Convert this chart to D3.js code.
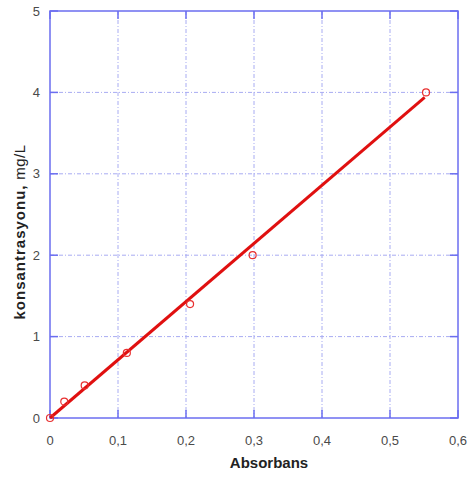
<!DOCTYPE html>
<html>
<head>
<meta charset="utf-8">
<script src="https://cdn.jsdelivr.net/npm/d3@7"></script>
<style>
  body { margin: 0; background: #fff; }
  text { font-family: "Liberation Sans", Arial, sans-serif; }
</style>
</head>
<body>
<svg id="chart" width="467" height="479"></svg>
<script>
const absorbans = [0, 0.021, 0.051, 0.113, 0.206, 0.298, 0.553];
const konsantrasyon = [0, 0.2, 0.4, 0.8, 1.4, 2.0, 4.0];
const fitX = [0, 0.551];
const fitY = [0, 3.94];
const xTicks = [0, 0.1, 0.2, 0.3, 0.4, 0.5, 0.6];
const yTicks = [0, 1, 2, 3, 4, 5];

const svg = d3.select("#chart"),
      margin = {top: 11, right: 9, bottom: 61, left: 50},
      width = +svg.attr("width") - margin.left - margin.right,
      height = +svg.attr("height") - margin.top - margin.bottom;

const x = d3.scaleLinear().domain([0, 0.6]).range([0, width]),
      y = d3.scaleLinear().domain([0, 5]).range([height, 0]);

const g = svg.append("g")
    .attr("transform", `translate(${margin.left},${margin.top})`);

const fmt = d => String(d).replace(".", ",");
const gridColor = "#a8acf2", axisColor = "#6b6ef0";

// grid
g.append("g").selectAll("line").data(xTicks.slice(1, -1)).enter().append("line")
    .attr("x1", d => x(d)).attr("x2", d => x(d))
    .attr("y1", 0).attr("y2", height)
    .attr("stroke", gridColor).attr("stroke-width", 1)
    .attr("stroke-dasharray", "4,2,1,2");
g.append("g").selectAll("line").data(yTicks.slice(1, -1)).enter().append("line")
    .attr("y1", d => y(d)).attr("y2", d => y(d))
    .attr("x1", 0).attr("x2", width)
    .attr("stroke", gridColor).attr("stroke-width", 1)
    .attr("stroke-dasharray", "4,2,1,2");

// frame
g.append("rect").attr("width", width).attr("height", height)
    .attr("fill", "none").attr("stroke", axisColor).attr("stroke-width", 1.5);

// inward ticks
const tk = 8;
g.append("g").selectAll("line").data(yTicks).enter().append("line")
    .attr("x1", 0).attr("x2", tk).attr("y1", d => y(d)).attr("y2", d => y(d))
    .attr("stroke", axisColor).attr("stroke-width", 1.5);
g.append("g").selectAll("line").data(yTicks).enter().append("line")
    .attr("x1", width - tk).attr("x2", width).attr("y1", d => y(d)).attr("y2", d => y(d))
    .attr("stroke", axisColor).attr("stroke-width", 1.5);
g.append("g").selectAll("line").data(xTicks).enter().append("line")
    .attr("x1", d => x(d)).attr("x2", d => x(d)).attr("y1", height - tk).attr("y2", height)
    .attr("stroke", axisColor).attr("stroke-width", 1.5);
g.append("g").selectAll("line").data(xTicks).enter().append("line")
    .attr("x1", d => x(d)).attr("x2", d => x(d)).attr("y1", 0).attr("y2", tk)
    .attr("stroke", axisColor).attr("stroke-width", 1.5);

// tick labels
g.append("g").selectAll("text").data(yTicks).enter().append("text")
    .attr("x", -10).attr("y", d => y(d)).attr("dy", "0.35em")
    .attr("text-anchor", "end").attr("font-size", 13).attr("fill", "#4a4a4a")
    .text(fmt);
g.append("g").selectAll("text").data(xTicks).enter().append("text")
    .attr("x", d => x(d)).attr("y", height + 27)
    .attr("text-anchor", "middle").attr("font-size", 13).attr("fill", "#4a4a4a")
    .text(fmt);

// axis titles
svg.append("text")
    .attr("x", 269).attr("y", 468)
    .attr("text-anchor", "middle").attr("font-size", 15).attr("font-weight", "bold")
    .attr("fill", "#222").text("Absorbans");

const yt = svg.append("text")
    .attr("transform", `translate(25,232) rotate(-90)`)
    .attr("text-anchor", "middle").attr("font-size", 15).attr("fill", "#222");
yt.append("tspan").attr("font-weight", "bold").attr("letter-spacing", 1).text("konsantrasyonu,");
yt.append("tspan").attr("letter-spacing", 0.5).text(" mg/L");

// fit line
const line = d3.line().x(d => x(d[0])).y(d => y(d[1]));
g.append("path").datum(fitX.map((v, i) => [v, fitY[i]]))
    .attr("d", line).attr("fill", "none")
    .attr("stroke", "#e01010").attr("stroke-width", 3);

// points
g.append("g").selectAll("circle").data(absorbans.map((v, i) => [v, konsantrasyon[i]]))
    .enter().append("circle")
    .attr("cx", d => x(d[0])).attr("cy", d => y(d[1])).attr("r", 3.5)
    .attr("fill", "none").attr("stroke", "#e83030").attr("stroke-width", 1.2);
</script>
</body>
</html>
